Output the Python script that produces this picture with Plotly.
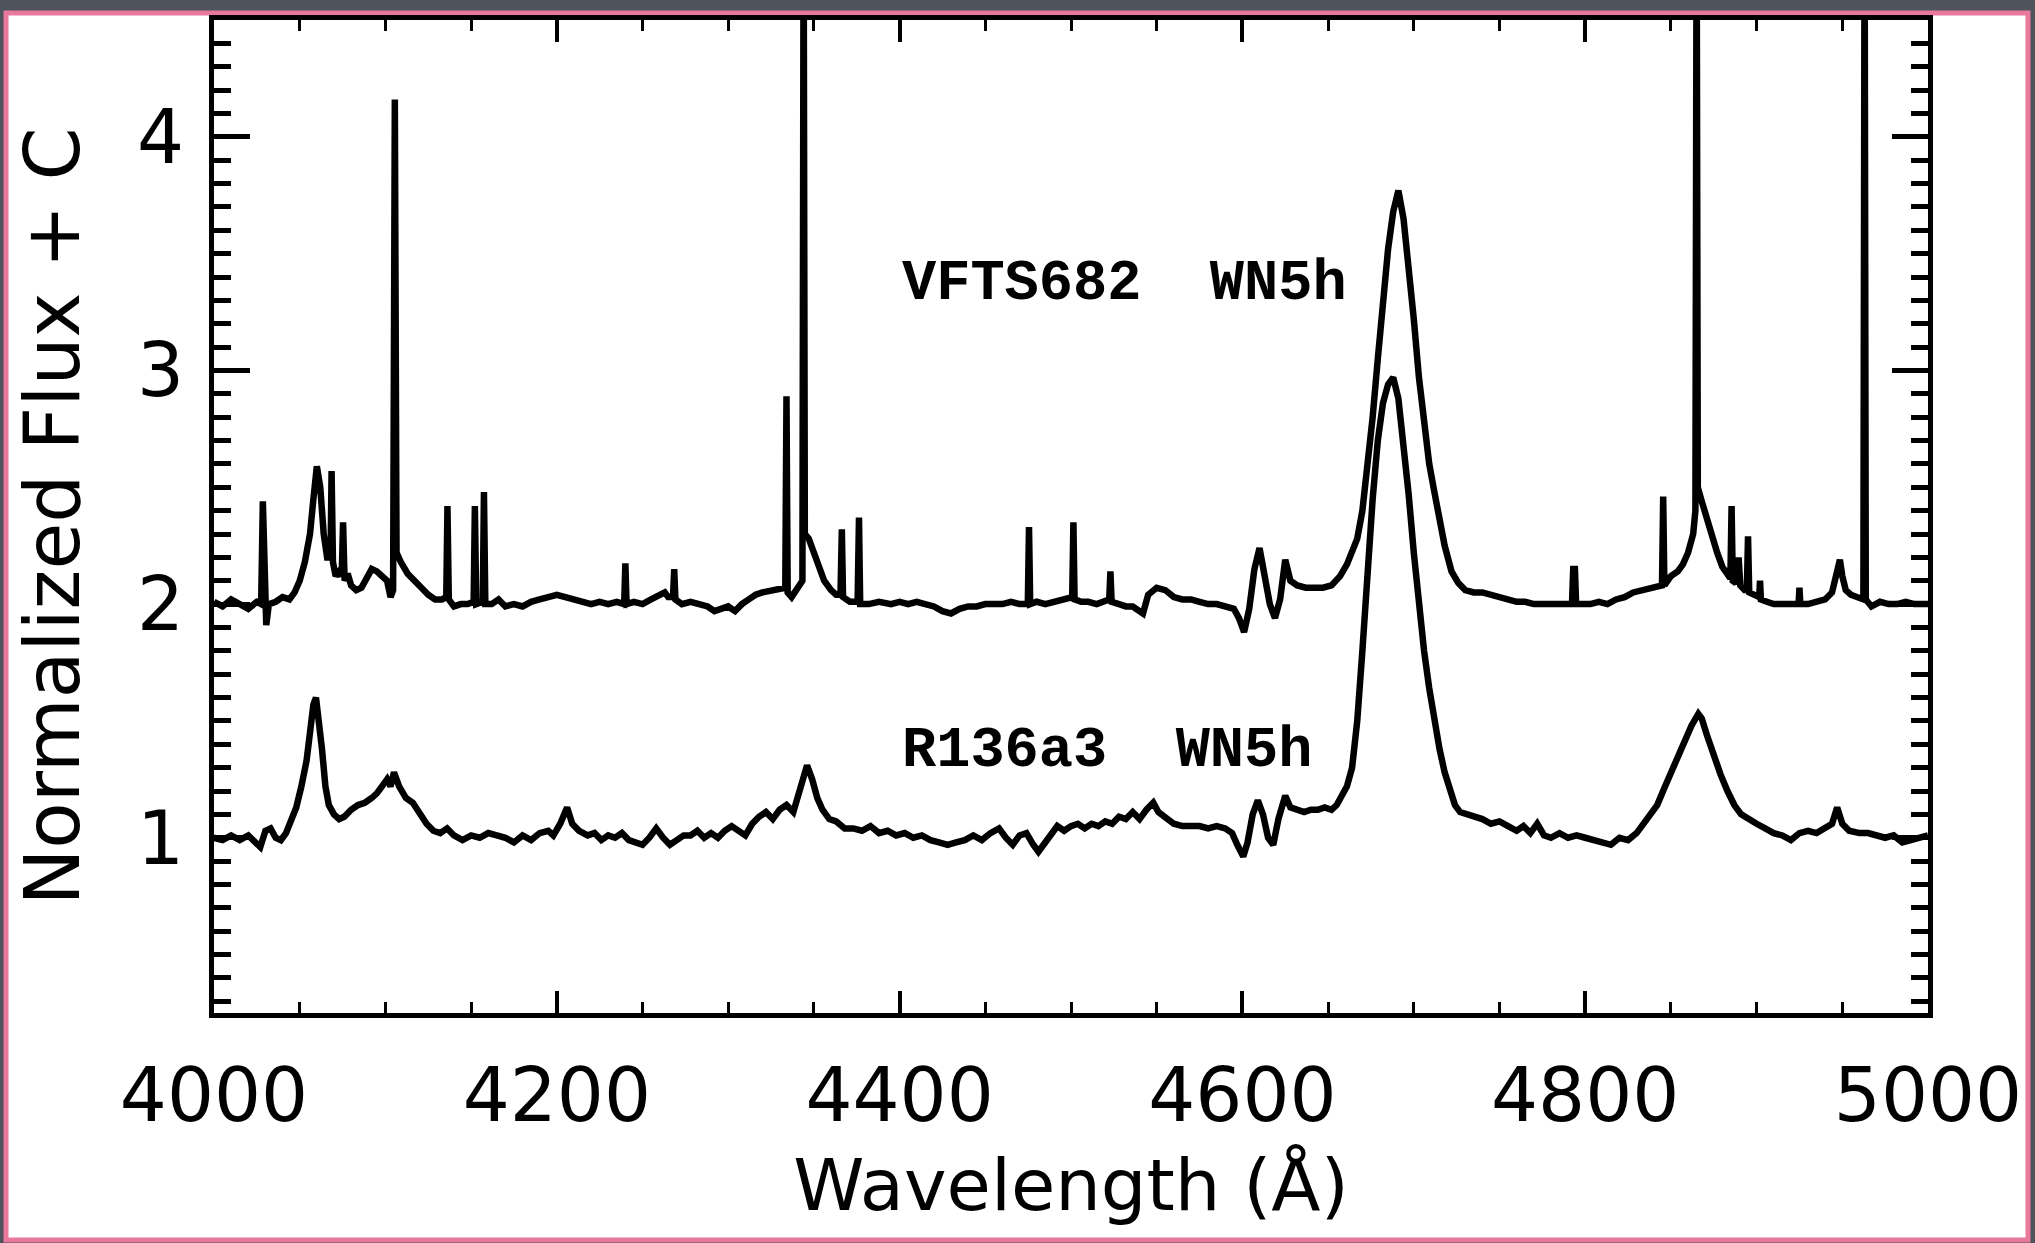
import plotly.graph_objects as go

# ---------------- data ----------------
# VFTS682 (WN5h), normalized flux + 1
wl_vfts = [
    4000, 4005, 4010, 4015, 4020, 4025, 4027.5, 4028.5, 4029.5, 4030.5, 4032, 4036, 4040, 4044, 4047,
    4050, 4053, 4056, 4058, 4060, 4062, 4064, 4066, 4068, 4068.6, 4069.4, 4071, 4073, 4074.5, 4075.3,
    4076.2, 4078, 4080, 4083, 4086, 4089, 4092, 4095, 4098, 4101, 4103, 4104.5, 4105.5, 4106.5, 4109,
    4113, 4117, 4121, 4125, 4129, 4133, 4135.5, 4136.2, 4137, 4140, 4144, 4148, 4151.5, 4152.2, 4153,
    4156.8, 4157.5, 4158.3, 4162, 4166, 4170, 4175, 4180, 4185, 4190, 4195, 4200, 4205, 4210, 4215,
    4220, 4225, 4230, 4235, 4239.3, 4240, 4240.7, 4245, 4250, 4255, 4260, 4263, 4265, 4267.8, 4268.5,
    4269.2, 4273, 4278, 4283, 4288, 4292, 4296, 4300, 4304, 4308, 4312, 4316, 4320, 4325, 4330,
    4333.3, 4334, 4334.7, 4337, 4340, 4343.3, 4344, 4344.7, 4347, 4350, 4353, 4356, 4360, 4363, 4365.5,
    4366.3, 4367, 4371, 4375.5, 4376.3, 4377, 4382, 4388, 4395, 4400, 4405, 4410, 4415, 4420, 4425,
    4430, 4435, 4440, 4445, 4450, 4455, 4460, 4465, 4470, 4474.8, 4475.5, 4476.2, 4480, 4485, 4490,
    4495, 4499, 4500.7, 4501.4, 4502.1, 4506, 4510, 4515, 4520, 4522.3, 4523, 4523.7, 4528, 4532, 4536,
    4540, 4542, 4545, 4550, 4555, 4560, 4565, 4570, 4575, 4580, 4585, 4590, 4595, 4598, 4601,
    4604, 4607, 4610, 4613, 4616, 4619, 4622, 4625, 4628, 4632, 4637, 4642, 4647, 4652, 4657,
    4661, 4664, 4667, 4670, 4673, 4676, 4679, 4682, 4685, 4688, 4691, 4694, 4697, 4700, 4703,
    4706, 4709, 4712, 4715, 4718, 4722, 4726, 4730, 4735, 4740, 4745, 4750, 4755, 4760, 4765,
    4770, 4775, 4780, 4785, 4790, 4792.3, 4793, 4794, 4794.7, 4798, 4803, 4808, 4813, 4818, 4823,
    4828, 4833, 4838, 4842, 4844.8, 4845.5, 4846.2, 4850, 4854, 4857, 4860, 4863, 4864.3, 4865, 4865.7,
    4868, 4871, 4874, 4877, 4880, 4883, 4884.7, 4885.4, 4886.1, 4888, 4889.5, 4890.5, 4893, 4894.3, 4895,
    4895.7, 4899, 4901.5, 4902, 4902.5, 4906, 4910, 4915, 4920, 4924.5, 4925, 4925.5, 4930, 4935, 4940,
    4944, 4947, 4948.6, 4950, 4952, 4955, 4958, 4961, 4962.3, 4963, 4963.7, 4967, 4972, 4977, 4982,
    4987, 4992, 4997, 5000,
]
flux_vfts = [
    2.01, 1.99, 2.02, 2.00, 1.98, 2.01, 2.00, 2.44, 1.99, 1.91, 2.00, 2.01, 2.03, 2.02, 2.05,
    2.10, 2.18, 2.30, 2.45, 2.59, 2.50, 2.30, 2.20, 2.20, 2.57, 2.18, 2.12, 2.14, 2.12, 2.35,
    2.10, 2.13, 2.08, 2.06, 2.07, 2.11, 2.15, 2.14, 2.12, 2.10, 2.03, 2.06, 4.16, 2.22, 2.18,
    2.13, 2.10, 2.07, 2.04, 2.02, 2.02, 2.03, 2.42, 2.02, 1.99, 2.00, 2.00, 2.01, 2.42, 2.00,
    2.01, 2.48, 2.00, 2.00, 2.02, 1.99, 2.00, 1.99, 2.01, 2.02, 2.03, 2.04, 2.03, 2.02, 2.01,
    2.00, 2.01, 2.00, 2.01, 2.00, 2.175, 2.00, 2.01, 2.00, 2.02, 2.04, 2.05, 2.03, 2.03, 2.15,
    2.02, 2.00, 2.01, 2.00, 1.99, 1.97, 1.98, 1.99, 1.97, 2.00, 2.02, 2.04, 2.05, 2.06, 2.07,
    2.07, 2.89, 2.05, 2.03, 2.07, 2.10, 5.00, 2.30, 2.28, 2.22, 2.15, 2.10, 2.06, 2.04, 2.04,
    2.32, 2.03, 2.01, 2.01, 2.37, 2.00, 2.00, 2.01, 2.00, 2.01, 2.00, 2.01, 2.00, 1.99, 1.97,
    1.96, 1.98, 1.99, 1.99, 2.00, 2.00, 2.00, 2.01, 2.00, 2.00, 2.33, 2.00, 2.01, 2.00, 2.01,
    2.02, 2.03, 2.03, 2.35, 2.02, 2.01, 2.01, 2.00, 2.01, 2.02, 2.14, 2.01, 2.00, 1.99, 1.99,
    1.97, 1.96, 2.04, 2.07, 2.06, 2.03, 2.02, 2.02, 2.01, 2.00, 2.00, 1.99, 1.98, 1.94, 1.88,
    1.98, 2.15, 2.24, 2.12, 2.00, 1.94, 2.02, 2.19, 2.10, 2.08, 2.07, 2.07, 2.07, 2.08, 2.12,
    2.17, 2.22, 2.28, 2.40, 2.58, 2.80, 3.05, 3.30, 3.52, 3.68, 3.77, 3.65, 3.45, 3.22, 2.97,
    2.76, 2.60, 2.48, 2.36, 2.25, 2.14, 2.09, 2.06, 2.05, 2.05, 2.04, 2.03, 2.02, 2.01, 2.01,
    2.00, 2.00, 2.00, 2.00, 2.00, 2.00, 2.15, 2.15, 2.00, 2.00, 2.00, 2.01, 2.00, 2.02, 2.03,
    2.05, 2.06, 2.07, 2.08, 2.08, 2.46, 2.08, 2.12, 2.14, 2.17, 2.22, 2.30, 2.40, 5.00, 2.50,
    2.44, 2.36, 2.29, 2.22, 2.16, 2.12, 2.11, 2.42, 2.10, 2.09, 2.20, 2.08, 2.06, 2.06, 2.29,
    2.05, 2.04, 2.03, 2.10, 2.02, 2.01, 2.00, 2.00, 2.00, 2.00, 2.07, 2.00, 2.00, 2.01, 2.02,
    2.05, 2.13, 2.19, 2.12, 2.06, 2.04, 2.03, 2.02, 2.02, 5.00, 2.02, 1.99, 2.01, 2.00, 2.00,
    2.01, 2.00, 2.00, 2.00,
]

# R136a3 (WN5h), normalized flux
wl_r136 = [
    4000, 4005, 4010, 4015, 4020, 4025, 4027, 4030, 4033, 4036, 4039, 4042, 4045, 4048, 4051,
    4054, 4056, 4058, 4059.5, 4061, 4063, 4065, 4067, 4070, 4073, 4076, 4080, 4084, 4088, 4092,
    4095, 4098, 4101, 4103, 4105, 4108, 4112, 4116, 4120, 4124, 4128, 4132, 4136, 4140, 4145,
    4150, 4155, 4160, 4165, 4170, 4175, 4180, 4185, 4190, 4195, 4198, 4202, 4206, 4209, 4213,
    4218, 4222, 4226, 4230, 4234, 4238, 4242, 4246, 4250, 4254, 4258, 4262, 4266, 4270, 4274,
    4278, 4282, 4286, 4290, 4294, 4298, 4302, 4306, 4310, 4314, 4318, 4322, 4326, 4330, 4334,
    4338, 4341, 4344, 4346, 4349, 4352, 4355, 4359, 4363, 4368, 4373, 4378, 4383, 4388, 4393,
    4398, 4403, 4408, 4413, 4418, 4423, 4428, 4433, 4438, 4443, 4448, 4453, 4458, 4462, 4466,
    4470, 4474, 4478, 4481, 4484, 4488, 4492, 4496, 4500, 4504, 4508, 4512, 4516, 4520, 4524,
    4528, 4532, 4536, 4540, 4544, 4548, 4551, 4555, 4560, 4565, 4570, 4575, 4580, 4585, 4590,
    4594, 4597, 4600.5, 4603, 4606, 4609, 4612, 4615, 4618, 4621, 4625, 4628, 4632, 4636, 4640,
    4644, 4648, 4652, 4655, 4658, 4661, 4664, 4667, 4670, 4673, 4676, 4679, 4682, 4685, 4688,
    4691, 4694, 4697, 4700, 4703, 4706, 4709, 4712, 4715, 4718, 4721, 4724, 4727, 4731, 4735,
    4740, 4745, 4750, 4755, 4760, 4764, 4768, 4772, 4776, 4780, 4785, 4790, 4795, 4800, 4805,
    4810, 4815, 4820, 4825, 4830, 4834, 4838, 4842, 4846, 4850, 4854, 4858, 4862, 4866, 4868,
    4871, 4875, 4879, 4883, 4887, 4891, 4895, 4900, 4905, 4910, 4915, 4920, 4925, 4930, 4935,
    4940, 4944, 4947, 4950, 4954, 4960, 4965, 4970, 4975, 4980, 4985, 4990, 4995, 5000,
]
flux_r136 = [
    1.00, 0.99, 1.01, 0.99, 1.01, 0.98, 0.96, 1.03, 1.04, 1.00, 0.99, 1.02, 1.07, 1.13, 1.22,
    1.33, 1.45, 1.57, 1.60, 1.52, 1.38, 1.22, 1.14, 1.10, 1.08, 1.09, 1.12, 1.14, 1.15, 1.17,
    1.19, 1.22, 1.25, 1.22, 1.28, 1.22, 1.17, 1.15, 1.10, 1.06, 1.03, 1.02, 1.04, 1.01, 0.99,
    1.01, 1.00, 1.02, 1.01, 1.00, 0.98, 1.01, 0.99, 1.02, 1.03, 1.01, 1.06, 1.13, 1.06, 1.03,
    1.01, 1.02, 0.99, 1.01, 1.00, 1.02, 0.99, 0.98, 0.97, 1.00, 1.04, 1.00, 0.97, 0.99, 1.01,
    1.01, 1.03, 1.00, 1.02, 1.00, 1.03, 1.05, 1.03, 1.01, 1.06, 1.09, 1.11, 1.08, 1.12, 1.14,
    1.11, 1.18, 1.26, 1.31, 1.25, 1.17, 1.12, 1.08, 1.07, 1.04, 1.04, 1.03, 1.05, 1.02, 1.03,
    1.01, 1.02, 1.00, 1.01, 0.99, 0.98, 0.97, 0.98, 0.99, 1.01, 0.99, 1.02, 1.04, 1.00, 0.97,
    1.01, 1.02, 0.97, 0.94, 0.97, 1.01, 1.05, 1.03, 1.05, 1.06, 1.04, 1.06, 1.05, 1.07, 1.06,
    1.09, 1.08, 1.11, 1.08, 1.12, 1.15, 1.11, 1.09, 1.06, 1.05, 1.05, 1.05, 1.04, 1.05, 1.04,
    1.02, 0.97, 0.92, 0.98, 1.10, 1.16, 1.10, 1.00, 0.97, 1.08, 1.18, 1.13, 1.12, 1.11, 1.12,
    1.12, 1.13, 1.12, 1.14, 1.18, 1.22, 1.30, 1.50, 1.80, 2.15, 2.45, 2.70, 2.86, 2.94, 2.97,
    2.88, 2.70, 2.47, 2.22, 2.00, 1.80, 1.64, 1.50, 1.38, 1.28, 1.20, 1.14, 1.11, 1.10, 1.09,
    1.08, 1.06, 1.07, 1.05, 1.03, 1.05, 1.02, 1.06, 1.01, 1.00, 1.02, 1.00, 1.01, 1.00, 0.99,
    0.98, 0.97, 1.00, 0.99, 1.02, 1.06, 1.10, 1.14, 1.21, 1.28, 1.34, 1.42, 1.48, 1.53, 1.51,
    1.44, 1.35, 1.27, 1.20, 1.14, 1.10, 1.08, 1.06, 1.04, 1.02, 1.01, 0.99, 1.02, 1.03, 1.02,
    1.04, 1.06, 1.13, 1.06, 1.03, 1.02, 1.02, 1.01, 1.00, 1.01, 0.98, 0.99, 1.00, 1.01,
]

labels = ["VFTS682  WN5h", "R136a3  WN5h"]
label_x = [4400, 4400]
label_y = [3.37, 1.37]

x_ticks = [4000, 4200, 4400, 4600, 4800, 5000]
y_ticks = [1, 2, 3, 4]

# ---------------- figure ----------------
fig = go.Figure()
for wl, fl in [(wl_vfts, flux_vfts), (wl_r136, flux_r136)]:
    fig.add_trace(go.Scatter(x=wl, y=fl, mode="lines",
                             line=dict(color="black", width=6.5),
                             showlegend=False, hoverinfo="skip"))

for txt, lx, ly in zip(labels, label_x, label_y):
    fig.add_annotation(x=lx, y=ly, text=f"<b>{txt}</b>", showarrow=False,
                       xanchor="left", yanchor="middle",
                       font=dict(family="Liberation Mono, Courier New, monospace",
                                 size=57, color="black"))

# slide frame (white card with pink border on grey)
fig.add_shape(type="rect", xref="paper", yref="paper",
              x0=(6 - 214) / 1714, x1=(2028 - 214) / 1714,
              y0=(1013 - 1240) / 993, y1=(1013 - 13) / 993,
              fillcolor="white", line=dict(color="#e8789c", width=5), layer="below")

axis_font = dict(family="DejaVu Sans, Liberation Sans, sans-serif", size=74, color="black")

fig.update_layout(
    width=2035, height=1243,
    margin=dict(l=214, r=107, t=20, b=230),
    paper_bgcolor="#4f535c",
    plot_bgcolor="white",
    font=dict(family="DejaVu Sans, sans-serif", color="black"),
    xaxis=dict(
        range=[4000, 5000], tickvals=x_ticks, ticks="inside", ticklen=22, tickwidth=4,
        tickcolor="black", showline=True, linecolor="black", linewidth=5, mirror="ticks",
        showgrid=False, zeroline=False, tickfont=axis_font, ticklabelstandoff=14,
        minor=dict(dtick=50, tick0=4000, ticks="inside", ticklen=11, tickwidth=3,
                   tickcolor="black", showgrid=False),
        title=dict(text="Wavelength (Å)", font=dict(family=axis_font["family"], size=72, color="black"),
                   standoff=24),
    ),
    yaxis=dict(
        range=[0.25, 4.5], tickvals=y_ticks, ticks="inside", ticklen=36, tickwidth=5,
        tickcolor="black", showline=True, linecolor="black", linewidth=5, mirror="ticks",
        showgrid=False, zeroline=False, tickfont=axis_font, ticklabelstandoff=10,
        minor=dict(dtick=0.1, tick0=0, ticks="inside", ticklen=17, tickwidth=5,
                   tickcolor="black", showgrid=False),
        title=dict(text="Normalized Flux + C", font=dict(family=axis_font["family"], size=76, color="black"),
                   standoff=34),
    ),
)

fig.write_html("out.html")
